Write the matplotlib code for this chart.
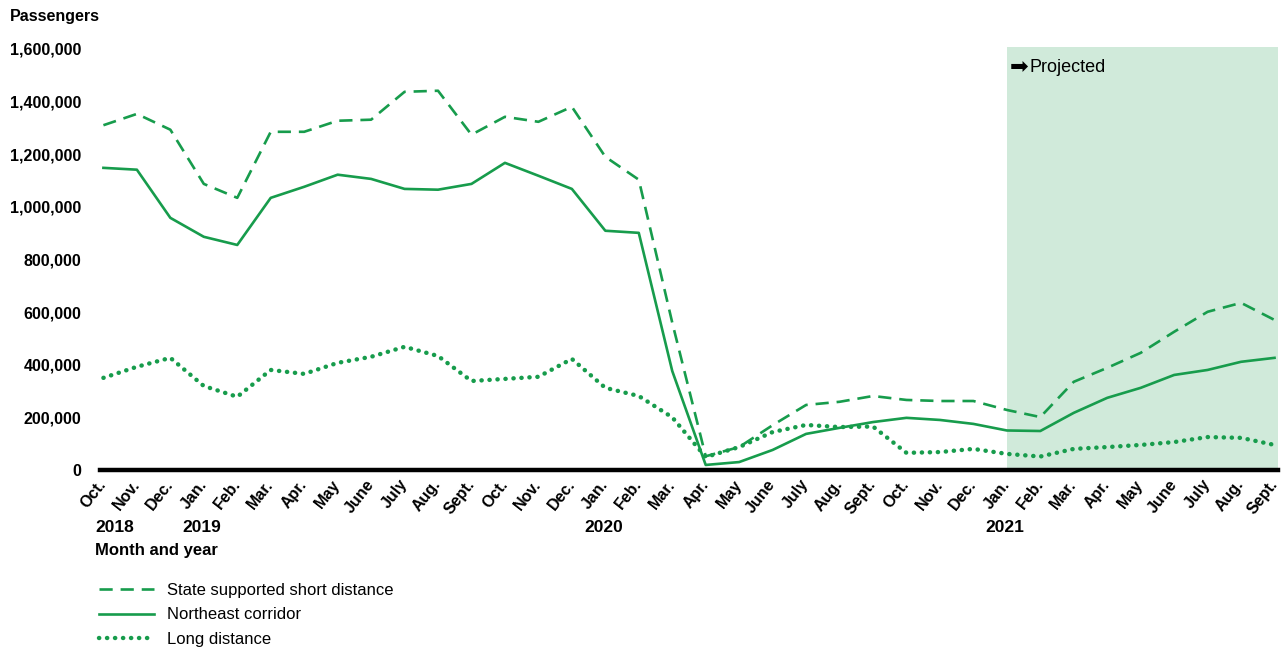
import numpy as np
import matplotlib.pyplot as plt
import matplotlib.transforms as mtrans
from matplotlib.ticker import FuncFormatter

plt.rcParams['font.family'] = ['Liberation Sans', 'DejaVu Sans']

# months from Oct. 2018 to Sept. 2021
months = ['Oct.', 'Nov.', 'Dec.', 'Jan.', 'Feb.', 'Mar.', 'Apr.', 'May', 'June',
          'July', 'Aug.', 'Sept.'] * 3
years = {0: '2018', 3: '2019', 15: '2020', 27: '2021'}
proj_start = 27  # Jan. 2021

state_short = [1310000, 1353000, 1293000, 1087000, 1034000, 1285000, 1285000,
               1327000, 1331000, 1437000, 1441000, 1274000, 1342000, 1323000,
               1380000, 1190000, 1103000, 560000, 52000, 87000, 170000, 247000,
               259000, 281000, 266000, 262000, 262000, 228000, 201000, 335000,
               388000, 445000, 525000, 601000, 635000, 570000]
northeast = [1148000, 1141000, 958000, 886000, 855000, 1034000, 1076000,
             1122000, 1106000, 1068000, 1065000, 1087000, 1167000, 1118000,
             1068000, 909000, 901000, 376000, 19000, 30000, 76000, 137000,
             160000, 182000, 198000, 190000, 175000, 150000, 148000, 217000,
             274000, 312000, 361000, 380000, 411000, 426000]
long_dist = [350000, 392000, 426000, 319000, 278000, 380000, 365000, 407000,
             430000, 468000, 433000, 338000, 346000, 354000, 422000, 312000,
             281000, 200000, 49000, 87000, 144000, 171000, 163000, 165000,
             65000, 68000, 80000, 61000, 51000, 80000, 87000, 95000, 106000,
             125000, 122000, 95000]

green = '#179c4c'
shade = '#d0eada'

x = np.arange(len(months))

fig = plt.figure(figsize=(12.83, 6.5), dpi=100)
ax = fig.add_axes([0.078, 0.277, 0.918, 0.651])

ax.axvspan(proj_start, len(months) - 1 + 0.1, color=shade, lw=0, zorder=0)

ax.plot(x, state_short, color=green, lw=1.9, dashes=(5, 3),
        label='State supported short distance')
ax.plot(x, northeast, color=green, lw=1.9, label='Northeast corridor')
ax.plot(x, long_dist, color=green, lw=3.2, linestyle=(0, (0.05, 1.75)),
        dash_capstyle='round', label='Long distance')

ax.set_xlim(-0.1, len(months) - 1 + 0.1)
ax.set_ylim(0, 1608000)
ax.set_yticks(np.arange(0, 1600001, 200000))
ax.yaxis.set_major_formatter(FuncFormatter(lambda v, p: f'{int(v):,}'))
for s in ['top', 'right', 'left']:
    ax.spines[s].set_visible(False)
ax.spines['bottom'].set_linewidth(3.2)
ax.spines['bottom'].set_color('black')
ax.spines['bottom'].set_zorder(5)
ax.tick_params(axis='y', length=0, pad=13.5, labelsize=11.5)
ax.tick_params(axis='x', length=0, pad=5, labelsize=11.5)
for lab in ax.get_yticklabels():
    lab.set_fontweight('bold')

ax.set_xticks(x)
ax.set_xticklabels(months, rotation=52, ha='right', rotation_mode='anchor',
                   fontweight='bold')
offset = mtrans.ScaledTranslation(-6 / 100, 0, fig.dpi_scale_trans)
for lab in ax.get_xticklabels():
    lab.set_transform(lab.get_transform() + offset)

trans = mtrans.blended_transform_factory(ax.transData, fig.transFigure)
for i, yr in years.items():
    if i == 0:
        ax.text(-0.25, 1 - 527 / 650, yr, transform=trans, ha='left',
                va='center', fontsize=12.5, fontweight='bold')
    else:
        ax.text(i - 0.05, 1 - 527 / 650, yr, transform=trans, ha='center',
                va='center', fontsize=12.5, fontweight='bold')

fig.text(95 / 1283, 1 - 551 / 650, 'Month and year', ha='left', va='center',
         fontsize=12, fontweight='bold')
fig.text(10 / 1283, 1 - 16 / 650, 'Passengers', ha='left', va='center',
         fontsize=11.5, fontweight='bold')

ax.text(proj_start + 0.1, 1530000, '➡', fontsize=16, ha='left', va='center',
        family='DejaVu Sans')
ax.text(proj_start + 0.68, 1530000, 'Projected', fontsize=13, ha='left',
        va='center')

fig.legend(loc='upper left', bbox_to_anchor=(92 / 1283, 1 - 576 / 650),
           frameon=False, fontsize=12, handlelength=3.3, handletextpad=0.78,
           labelspacing=0.58, borderaxespad=0)

fig.savefig('out.png', dpi=100)
